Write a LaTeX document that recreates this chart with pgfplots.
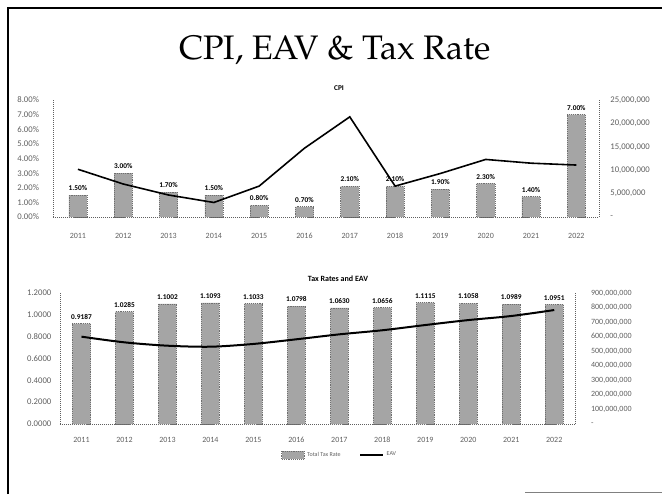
\documentclass[border=0pt]{standalone}
\usepackage{pgfplots}
\pgfplotsset{compat=1.18}
\usepackage{fontspec}
\setmainfont{Carlito}[Numbers=Lining]
\newfontfamily\titlefont{TeX Gyre Pagella}
\definecolor{tickgray}{RGB}{95,95,95}
\definecolor{barfill}{RGB}{165,165,165}
\definecolor{bardraw}{RGB}{110,110,110}
\begin{document}
\begin{tikzpicture}
\path[use as bounding box] (0,0) rectangle (496.5pt,370.5pt);
% slide frame
\draw[line width=1.6pt] (6pt,0) -- (6pt,364.5pt);
\draw[line width=1.2pt] (5.25pt,364.5pt) -- (496.5pt,364.5pt);
\draw[line width=0.8pt, gray] (393.75pt,1.2pt) -- (496.5pt,1.2pt);
\node[font=\titlefont\fontsize{25.5}{30}\selectfont] at (251.25pt,333pt) {CPI, EAV \& Tax Rate};
\node[font=\bfseries\fontsize{5.5}{6}\selectfont] at (254.25pt,304.5pt) {CPI};
\node[font=\bfseries\fontsize{6}{7}\selectfont] at (253.5pt,161.25pt) {Tax Rates and EAV};

\pgfplotsset{
  basestyle/.style={
    scale only axis,
    axis line style={tickgray, densely dotted, line width=0.5pt},
    major tick length=0pt,
    tick label style={text=tickgray},
    yticklabel style={font=\fontsize{6.5}{7}\selectfont},
    xticklabel style={font=\fontsize{6}{7}\selectfont, text height=1.6ex, text depth=0pt},
    xtick=data,
    xticklabels={2011,2012,2013,2014,2015,2016,2017,2018,2019,2020,2021,2022},
    clip=false,
  },
}

% ---------------- CPI chart ----------------
\begin{axis}[basestyle,
  at={(39.75pt,207.75pt)}, anchor=south west,
  width=409.5pt, height=87.75pt,
  xmin=-0.55, xmax=11.5,
  ymin=0, ymax=8,
  axis x line*=bottom, axis y line*=left,
  ytick={0,1,2,3,4,5,6,7,8},
  yticklabels={0.00\%,1.00\%,2.00\%,3.00\%,4.00\%,5.00\%,6.00\%,7.00\%,8.00\%},
  yticklabel style={xshift=-7pt},
  xticklabel style={yshift=-5pt},
  ybar, bar width=0.4,
  nodes near coords={\pgfmathprintnumber[fixed,fixed zerofill,precision=2,assume math mode=true]{\pgfplotspointmeta}\%},
  nodes near coords style={font=\bfseries\fontsize{5.5}{6}\selectfont, inner sep=1pt, yshift=2pt},
]
\addplot[fill=barfill, draw=bardraw, densely dotted] coordinates {
 (0,1.5) (1,3.0) (2,1.7) (3,1.5) (4,0.8) (5,0.7)
 (6,2.1) (7,2.1) (8,1.9) (9,2.3) (10,1.4) (11,7.0)};
\end{axis}
\begin{axis}[basestyle,
  at={(39.75pt,207.75pt)}, anchor=south west,
  width=409.5pt, height=87.75pt,
  xmin=-0.55, xmax=11.5,
  ymin=0, ymax=25,
  axis y line*=right, axis x line=none,
  ytick={0,5,10,15,20,25},
  yticklabels={-,{5,000,000},{10,000,000},{15,000,000},{20,000,000},{25,000,000}},
  yticklabel style={xshift=5pt},
]
\addplot[black, line width=1.2pt, mark=none] coordinates {
 (0,10.2) (1,7.05) (2,4.7) (3,3.1) (4,6.6) (5,14.7)
 (6,21.4) (7,6.6) (8,9.3) (9,12.3) (10,11.5) (11,11.1)};
\end{axis}

% ---------------- Tax Rates and EAV chart ----------------
\begin{axis}[basestyle,
  at={(45pt,52.5pt)}, anchor=south west,
  width=386.8pt, height=98.25pt,
  xmin=-0.5, xmax=11.5,
  ymin=0, ymax=1.2,
  axis x line*=bottom, axis y line*=left,
  ytick={0,0.2,0.4,0.6,0.8,1.0,1.2},
  yticklabels={0.0000,0.2000,0.4000,0.6000,0.8000,1.0000,1.2000},
  yticklabel style={xshift=-3pt},
  xticklabel style={yshift=-3pt},
  ybar, bar width=0.42,
  nodes near coords={\pgfmathprintnumber[fixed,fixed zerofill,precision=4,assume math mode=true]{\pgfplotspointmeta}},
  nodes near coords style={font=\bfseries\fontsize{5.5}{6}\selectfont, inner sep=1pt, yshift=2pt},
]
\addplot[fill=barfill, draw=bardraw, densely dotted] coordinates {
 (0,0.9187) (1,1.0285) (2,1.1002) (3,1.1093) (4,1.1033) (5,1.0798)
 (6,1.0630) (7,1.0656) (8,1.1115) (9,1.1058) (10,1.0989) (11,1.0951)};
\end{axis}
\begin{axis}[basestyle,
  at={(45pt,52.5pt)}, anchor=south west,
  width=386.8pt, height=98.25pt,
  xmin=-0.5, xmax=11.5,
  ymin=0, ymax=900,
  axis y line*=right, axis x line=none,
  ytick={0,100,200,300,400,500,600,700,800,900},
  yticklabels={-,{100,000,000},{200,000,000},{300,000,000},{400,000,000},{500,000,000},{600,000,000},{700,000,000},{800,000,000},{900,000,000}},
  yticklabel style={xshift=8pt, font=\fontsize{6}{7}\selectfont},
  legend style={at={(0.543,-0.237)}, anchor=center, draw=none, fill=none,
    legend columns=2, font=\fontsize{4.5}{5}\selectfont, text=tickgray,
    /tikz/every even column/.append style={column sep=12pt}},
]
\addlegendimage{area legend, fill=barfill, draw=bardraw, densely dotted}
\addlegendentry{Total Tax Rate}
\addplot[black, line width=1.5pt, mark=none, smooth] coordinates {
 (0,600) (1,561) (2,538) (3,531) (4,550) (5,582)
 (6,616) (7,644) (8,680) (9,714) (10,742) (11,783)};
\addlegendentry{EAV}
\end{axis}
\end{tikzpicture}
\end{document}
